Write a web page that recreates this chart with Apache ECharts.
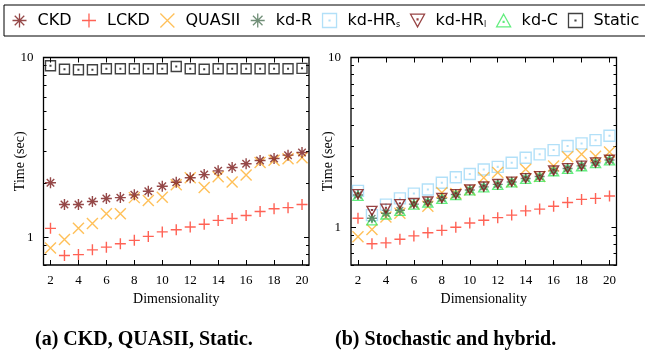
<!DOCTYPE html>
<html><head><meta charset="utf-8">
<script src="https://cdn.jsdelivr.net/npm/echarts@6/dist/echarts.min.js"></script>
<style>html,body{margin:0;padding:0;background:#fff}#c{width:645px;height:351px}</style>
</head><body><div id="c"></div>
<script>
// ---- data ----
const dims = [2,3,4,5,6,7,8,9,10,11,12,13,14,15,16,17,18,19,20];
const xTicks = [2,4,6,8,10,12,14,16,18,20];
const yMajor = [1,10];
const yMinorA = [0.7,0.8,0.9,2,3,4,5,6,7,8,9];
const yMinorB = [0.6,0.7,0.8,0.9,2,3,4,5,6,7,8,9];
// (a) CKD, QUASII, Static
const ckdA    = [2.01,1.52,1.52,1.58,1.64,1.66,1.72,1.80,1.92,2.02,2.14,2.23,2.34,2.44,2.56,2.67,2.74,2.86,2.96];
const lckdA   = [1.12,0.79,0.80,0.85,0.88,0.92,0.96,1.01,1.07,1.10,1.14,1.18,1.24,1.27,1.32,1.39,1.44,1.46,1.52];
const quasiiA = [0.87,0.97,1.12,1.19,1.35,1.35,1.66,1.60,1.67,1.96,2.14,1.89,2.17,2.03,2.22,2.60,2.68,2.73,2.77];
const staticA = [8.99,8.60,8.54,8.54,8.66,8.66,8.66,8.66,8.66,8.91,8.66,8.60,8.66,8.66,8.66,8.66,8.66,8.66,8.70];
// (b) Stochastic and hybrid
const lckdB   = [1.13,0.80,0.81,0.85,0.89,0.93,0.96,1.00,1.06,1.10,1.14,1.18,1.25,1.28,1.33,1.40,1.46,1.48,1.53];
const quasiiB = [0.88,0.97,1.15,1.21,1.37,1.33,1.60,1.58,1.66,1.96,2.10,1.85,2.20,1.99,2.30,2.60,2.69,2.62,2.78];
const kdR     = [1.55,1.13,1.21,1.26,1.37,1.41,1.48,1.56,1.66,1.73,1.79,1.85,1.94,1.99,2.15,2.22,2.30,2.40,2.49];
const kdHRs   = [1.64,1.18,1.36,1.48,1.58,1.67,1.83,1.97,2.06,2.19,2.27,2.40,2.57,2.69,2.85,3.01,3.12,3.26,3.46];
const kdHRl   = [1.57,1.25,1.29,1.37,1.39,1.42,1.49,1.57,1.67,1.74,1.80,1.86,1.95,2.00,2.16,2.23,2.31,2.41,2.50];
const kdC     = [1.53,1.10,1.19,1.25,1.36,1.40,1.47,1.55,1.65,1.72,1.78,1.84,1.93,1.98,2.14,2.21,2.29,2.39,2.48];
const legendNames = ['CKD','LCKD','QUASII','kd-R','kd-HRs','kd-HRl','kd-C','Static'];
const captions = ['(a) CKD, QUASII, Static.','(b) Stochastic and hybrid.'];

// ---- styling ----
const SYM = {
  ast: 'path://M0 5L10 5M5 0L5 10M1.6 1.6L8.4 8.4M8.4 1.6L1.6 8.4',
  plus: 'path://M0 5L10 5M5 0L5 10',
  x: 'path://M0 0L10 10M10 0L0 10',
  sq: 'path://M0 0L10 0L10 10L0 10ZM4.7 4.7L5.3 4.7L5.3 5.3L4.7 5.3Z',
  tdown: 'path://M0 0L10 0L5 9ZM4.7 3.4L5.3 3.4L5.3 4.0L4.7 4.0Z',
  tup: 'path://M5 0L10 9L0 9ZM4.7 5.2L5.3 5.2L5.3 5.8L4.7 5.8Z'
};
const COL = {CKD:'#7a1a1a', LCKD:'#ff3b2b', QUASII:'#ffb030', 'kd-R':'#4d7356',
  'kd-HRs':'#9fd8f6', 'kd-HRl':'#7d1414', 'kd-C':'#3be85e', Static:'#111111'};
const SYMOF = {CKD:SYM.ast, LCKD:SYM.plus, QUASII:SYM.x, 'kd-R':SYM.ast,
  'kd-HRs':SYM.sq, 'kd-HRl':SYM.tdown, 'kd-C':SYM.tup, Static:SYM.sq};
const SIZE = {CKD:11, LCKD:11, QUASII:11, 'kd-R':10, 'kd-HRs':[11,11], 'kd-HRl':[10,9], 'kd-C':[10,9], Static:[10,10]};
const serif = 'Liberation Serif';

function ser(name, vals, gi, z) {
  return {
    type:'scatter', name, xAxisIndex: gi*2, yAxisIndex: gi*4, z: z||2,
    data: dims.map((d,i)=>[d, vals[i]]),
    symbol: SYMOF[name], symbolSize: SIZE[name],
    itemStyle:{color:'none', borderColor: COL[name], borderWidth: 1.4},
    emphasis:{disabled:true}, silent:true
  };
}

const gridsPos = [
  {left:43.5, right:336, top:57.5, bottom:86},
  {left:351, right:28.5, top:57.5, bottom:86}
];
const yMin = [0.7, 0.6];
const xAxis = [], yAxis = [];
gridsPos.forEach((g,gi)=>{
  xAxis.push({type:'value', gridIndex:gi, min:1.5, max:20.5, position:'bottom',
    axisLine:{show:false}, splitLine:{show:false},
    axisTick:{inside:true, length:5, customValues:xTicks, lineStyle:{color:'#000', width:1}},
    axisLabel:{customValues:xTicks, fontFamily:serif, fontSize:13, color:'#000', margin:9},
    name:'Dimensionality', nameLocation:'middle', nameGap:27, nameMoveOverlap:false,
    nameTextStyle:{fontFamily:serif, fontSize:14, color:'#000'}});
  xAxis.push({type:'value', gridIndex:gi, min:1.5, max:20.5, position:'top',
    axisLine:{show:false}, splitLine:{show:false},
    axisTick:{inside:true, length:5, customValues:xTicks, lineStyle:{color:'#000', width:1}},
    axisLabel:{show:false}});
  const minor = gi===0 ? yMinorA : yMinorB;
  [['left',true],['left',false],['right',true],['right',false]].forEach(([pos,major])=>{
    const ax = {type:'log', logBase:10, gridIndex:gi, min:yMin[gi], max:10, position:pos,
      axisLine:{show:false}, splitLine:{show:false}, minorTick:{show:false},
      axisTick:{inside:true, length: major?5:3, customValues: major?yMajor:minor, lineStyle:{color:'#000', width:1}},
      axisLabel:{show:false}};
    if (pos==='left' && major) {
      ax.axisLabel = {show:true, customValues:yMajor, fontFamily:serif, fontSize:13, color:'#000', margin:10};
      ax.name = 'Time (sec)'; ax.nameLocation='middle'; ax.nameGap=16; ax.nameRotate=90;
      ax.nameMoveOverlap = false;
      ax.nameTextStyle = {fontFamily:serif, fontSize:14, color:'#000'};
    }
    yAxis.push(ax);
  });
});

const series = [
  ser('Static', staticA, 0), ser('QUASII', quasiiA, 0), ser('CKD', ckdA, 0, 3), ser('LCKD', lckdA, 0),
  ser('kd-HRs', kdHRs, 1), ser('QUASII', quasiiB, 1), ser('kd-C', kdC, 1), ser('kd-R', kdR, 1),
  ser('kd-HRl', kdHRl, 1, 3), ser('LCKD', lckdB, 1)
];

const chart = echarts.init(document.getElementById('c'), null, {renderer:'canvas'});
chart.setOption({
  animation:false,
  backgroundColor:'#fff',
  grid: gridsPos.map(g=>Object.assign({show:true, borderColor:'#000', borderWidth:1.3, backgroundColor:'transparent'}, g)),
  xAxis, yAxis, series,
  title: [
    {text:captions[0], left:30, top:325, textStyle:{fontFamily:serif, fontWeight:'bold', fontSize:20, color:'#000'}},
    {text:captions[1], left:330, top:325, textStyle:{fontFamily:serif, fontWeight:'bold', fontSize:20, color:'#000'}}
  ],
  legend: {
    data: legendNames, left:4, top:5, width:700, orient:'horizontal',
    padding:[6,8,6,6], itemGap:8, itemWidth:14, itemHeight:14,
    borderColor:'#000', borderWidth:1, selectedMode:false,
    itemStyle:{borderWidth:1.3},
    formatter: n => {
      if (n==='kd-HRs') return '{g|}{t|kd-HR}{s|s}';
      if (n==='kd-HRl') return '{g|}{t|kd-HR}{s|l}';
      return '{g|}{t|'+n+'}';
    },
    textStyle:{fontFamily:'DejaVu Sans', fontSize:16, color:'#000',
      rich:{g:{width:6}, t:{fontFamily:'DejaVu Sans', fontSize:16, color:'#000'},
            s:{fontFamily:'DejaVu Sans', fontSize:8, color:'#000', padding:[8,0,0,0]}}}
  }
});
</script></body></html>
